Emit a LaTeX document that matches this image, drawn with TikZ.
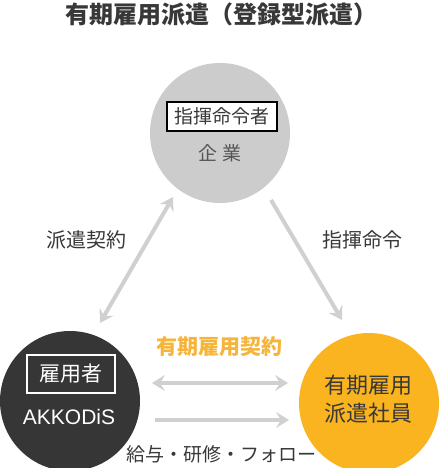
\documentclass[tikz,border=0pt]{standalone}
\usepackage{fontspec}
\setmainfont{Noto Sans CJK JP}
\newfontfamily\latinsans{Liberation Sans}
\usetikzlibrary{arrows.meta}
\definecolor{circgrey}{HTML}{CCCCCC}
\definecolor{arrgrey}{HTML}{D0D0D0}
\definecolor{darkcirc}{HTML}{363636}
\definecolor{orangecirc}{HTML}{F9B41F}
\definecolor{orangetext}{HTML}{F6B53A}
\definecolor{textdark}{HTML}{383838}
\tikzset{
  fs/.style={font=\fontsize{#1}{#1}\selectfont},
  bigcirc/.style={circle, inner sep=0pt, minimum size=140pt},
  conn/.style={draw=arrgrey, line width=4pt, -{Stealth[length=13pt,width=16pt,inset=5pt]}},
  conn2/.style={draw=arrgrey, line width=4pt, {Stealth[length=13pt,width=16pt,inset=5pt]}-{Stealth[length=13pt,width=16pt,inset=5pt]}},
  lbl/.style={text=textdark, inner sep=0pt}
}
\begin{document}
\begin{tikzpicture}[x=1pt,y=-1pt]
\useasboundingbox (0,0) rectangle (440,468);
\fill[white] (0,0) rectangle (440,468);
\begin{scope}
\clip (0,0) rectangle (440,468);
\node[bigcirc, fill=circgrey] (kigyo) at (220,133) {};
\node[bigcirc, fill=darkcirc] (akkodis) at (70,401) {};
\node[bigcirc, fill=orangecirc] (shain) at (369,403) {};
\end{scope}

\node[lbl, font=\bfseries\fontsize{24}{24}\selectfont] (title) at (221,14) {有期雇用派遣（登録型派遣）};

\node[draw=black, line width=2pt, fill=white, minimum width=110pt, minimum height=29pt, inner sep=0pt, text=textdark, fs=19] (shiki) at (222,116.5) {指揮命令者};
\node[lbl, fs=19, text=textdark!85] (kigyotxt) at (220,153) {企\hspace{0.3em}業};

\node[draw=white, line width=1.5pt, minimum width=88pt, minimum height=38pt, inner sep=0pt, text=white, fs=21] (koyo) at (71,374) {雇用者};
\node[inner sep=0pt, text=white, font=\latinsans\fontsize{21}{21}\selectfont] (akk) at (69,417) {AKKODiS};

\node[lbl, align=center, font=\fontsize{22}{28}\selectfont] (shaintxt) at (368,399) {有期雇用\\派遣社員};

\coordinate (la) at (100,323);
\coordinate (lb) at (173,197);
\coordinate (ra) at (271,200);
\coordinate (rb) at (342,320);
\coordinate (ha) at (152,383);
\coordinate (hb) at (288,383);
\coordinate (sa) at (155,420);
\coordinate (sb) at (289,420);
\draw[conn2] (la) -- (lb);
\draw[conn] (ra) -- (rb);
\draw[conn2] (ha) -- (hb);
\draw[conn] (sa) -- (sb);

\node[lbl, fs=20] (haken) at (86,240) {派遣契約};
\node[lbl, fs=20] (shikirei) at (362,240) {指揮命令};
\node[inner sep=0pt, text=orangetext, font=\bfseries\fontsize{21}{21}\selectfont] (keiyaku) at (219,347) {有期雇用契約};
\node[lbl, fs=19] (kyuyo) at (221,454) {給与・研修・フォロー};
\end{tikzpicture}
\end{document}
